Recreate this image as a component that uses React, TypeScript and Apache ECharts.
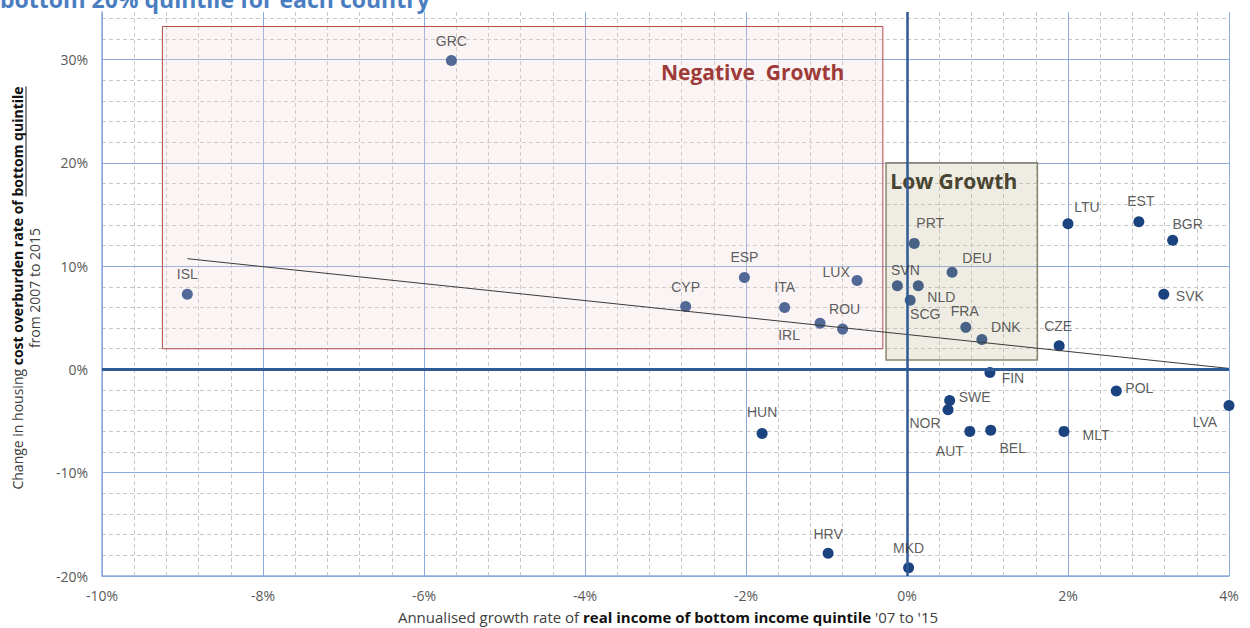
import React, { useEffect, useRef } from "react";
import * as echarts from "echarts";

const countries = ["GRC", "ISL", "CYP", "ESP", "ITA", "LUX", "IRL", "ROU", "SVN", "PRT", "NLD", "SCG", "DEU", "FRA", "DNK", "CZE", "LTU", "EST", "BGR", "SVK", "FIN", "SWE", "NOR", "AUT", "BEL", "MLT", "POL", "LVA", "HUN", "HRV", "MKD"];
const incomeGrowth = [-5.66, -8.94, -2.75, -2.02, -1.52, -0.62, -1.08, -0.80, -0.12, 0.09, 0.14, 0.04, 0.56, 0.73, 0.93, 1.89, 2.0, 2.88, 3.30, 3.19, 1.03, 0.53, 0.51, 0.78, 1.04, 1.95, 2.60, 4.0, -1.80, -0.98, 0.02];
const overburdenChange = [29.9, 7.27, 6.1, 8.9, 6.0, 8.6, 4.46, 3.9, 8.1, 12.2, 8.1, 6.7, 9.4, 4.07, 2.9, 2.3, 14.1, 14.3, 12.5, 7.27, -0.29, -3.0, -3.9, -6.0, -5.9, -6.0, -2.1, -3.5, -6.2, -17.8, -19.2];

const xTicks = [-10, -8, -6, -4, -2, 0, 2, 4];
const yTicks = [-20, -10, 0, 10, 20, 30];

const negativeGrowthBox = [[-9.25, 33.2], [-0.3, 2.0]];
const lowGrowthBox = [[-0.26, 20.0], [1.62, 0.9]];

// label placement (pixel offsets from the marker centre)
const labelOffsets: Record<string, [number, number]> = {
  GRC: [0, -20], ISL: [0, -20], CYP: [0, -19], ESP: [0, -20], ITA: [0, -20],
  LUX: [-21, -9], IRL: [-31, 12], ROU: [2, -20], SVN: [8, -16], PRT: [16, -20],
  NLD: [23, 11], SCG: [15, 14], DEU: [25, -14], FRA: [-1, -16], DNK: [24, -12],
  CZE: [-1, -20], LTU: [19, -17], EST: [2, -21], BGR: [15, -16], SVK: [26, 2],
  FIN: [23, 6], SWE: [25, -3], NOR: [-23, 13], AUT: [-20, 20], BEL: [22, 18],
  MLT: [32, 4], POL: [23, -3], LVA: [-24, 16], HUN: [0, -21], HRV: [0, -19], MKD: [0, -20],
};

function regression(xs: number[], ys: number[]) {
  const n = xs.length;
  const mx = xs.reduce((a, b) => a + b, 0) / n;
  const my = ys.reduce((a, b) => a + b, 0) / n;
  let sxy = 0, sxx = 0;
  for (let i = 0; i < n; i++) {
    sxy += (xs[i] - mx) * (ys[i] - my);
    sxx += (xs[i] - mx) * (xs[i] - mx);
  }
  const slope = sxy / sxx;
  return { slope, intercept: my - slope * mx };
}

function textWidth(text: string, font: string) {
  const c = document.createElement("canvas").getContext("2d");
  if (!c) return text.length * 7;
  c.font = font;
  return c.measureText(text).width;
}

export default function App() {
  const ref = useRef<HTMLDivElement>(null);
  useEffect(() => {
    if (!ref.current) return;
    const chart = echarts.init(ref.current, null, { renderer: "svg" });

    const { slope, intercept } = regression(incomeGrowth, overburdenChange);
    const xMin = Math.min(...incomeGrowth);
    const xMax = Math.max(...incomeGrowth);
    const trend = [[xMin, intercept + slope * xMin], [xMax, intercept + slope * xMax]];

    const points = countries.map((c, i) => ({
      name: c,
      value: [incomeGrowth[i], overburdenChange[i]],
    }));
    const labelPoints = countries.map((c, i) => ({
      name: c,
      value: [incomeGrowth[i], overburdenChange[i]],
      label: { offset: labelOffsets[c] || [0, -18] },
    }));

    const yFont = "Open Sans";
    const yFs = 14;
    const pa = "Change in housing ";
    const pb = "cost overburden rate of ";
    const pc = "bottom quintile";
    const wa = textWidth(pa, `${yFs}px "${yFont}"`);
    const wb = textWidth(pb, `bold ${yFs}px "${yFont}"`);
    const wc = textWidth(pc, `bold ${yFs}px "${yFont}"`);
    const W = wa + wb + wc;

    chart.setOption({
      animation: false,
      grid: { left: 102, right: 21, top: 12, bottom: 52 },
      xAxis: {
        type: "value",
        min: xTicks[0],
        max: xTicks[xTicks.length - 1],
        interval: 2,
        axisLine: { show: true, onZero: false, lineStyle: { color: "#8EAADB", width: 1.5 } },
        axisTick: { show: false },
        axisLabel: { formatter: (v: number) => `${v}%`, color: "#595959", fontFamily: "Open Sans", fontSize: 14, margin: 12 },
        splitLine: { show: true, lineStyle: { color: "#8EAADB", width: 1 } },
        minorTick: { show: false, splitNumber: 5 },
        minorSplitLine: { show: true, lineStyle: { color: "#C8C8C8", type: [4, 3], width: 1 } },
      },
      yAxis: [
        {
          type: "value",
          min: yTicks[0],
          max: 34.6,
          interval: 10,
          z: 2,
          axisLine: { show: true, onZero: false, lineStyle: { color: "#8EAADB", width: 1.5 } },
          axisTick: { show: false },
          axisLabel: {
            showMaxLabel: false,
            formatter: (v: number) => (yTicks.includes(v) ? `${v}%` : ""),
            color: "#595959", fontFamily: "Open Sans", fontSize: 14, margin: 14,
          },
          splitLine: { show: true, showMaxLine: false, lineStyle: { color: "#8EAADB", width: 1 } },
        },
        {
          type: "value",
          min: yTicks[0],
          max: 34.6,
          interval: 2,
          z: 0,
          axisLine: { show: false },
          axisTick: { show: false },
          axisLabel: { show: false },
          splitLine: { show: true, showMaxLine: false, lineStyle: { color: "#C8C8C8", type: [4, 3], width: 1 } },
        },
      ],
      series: [
        {
          type: "scatter",
          z: 2,
          data: points,
          symbolSize: 11,
          itemStyle: { color: "#1B4380", opacity: 1 },
          label: { show: false },
          markArea: {
            z: 3,
            silent: true,
            data: [
              [
                {
                  name: "Negative  Growth",
                  coord: negativeGrowthBox[0],
                  itemStyle: { color: "rgba(238,212,212,0.26)", borderColor: "#B24A48", borderWidth: 1 },
                  label: {
                    show: true, position: "insideTopRight", distance: 5, offset: [-34, 31],
                    color: "#9E3A38", fontFamily: "Open Sans", fontWeight: "bold", fontSize: 21,
                  },
                },
                { coord: negativeGrowthBox[1] },
              ],
              [
                {
                  name: "Low Growth",
                  coord: lowGrowthBox[0],
                  itemStyle: { color: "rgba(197,186,151,0.27)", borderColor: "#8A8570", borderWidth: 1.5 },
                  label: {
                    show: true, position: "insideTopLeft", distance: 5, offset: [0, 3],
                    color: "#494430", fontFamily: "Open Sans", fontWeight: "bold", fontSize: 21,
                  },
                },
                { coord: lowGrowthBox[1] },
              ],
            ],
          },
          markLine: {
            silent: true,
            symbol: "none",
            label: { show: false },
            lineStyle: { color: "#2E5A96", type: "solid" },
            data: [
              { xAxis: 0, lineStyle: { width: 2.5 } },
              { yAxis: 0, lineStyle: { width: 3 } },
            ],
          },
        },
        {
          type: "scatter",
          z: 6,
          silent: true,
          data: labelPoints,
          symbolSize: 11,
          itemStyle: { color: "rgba(0,0,0,0)" },
          label: {
            show: true,
            position: "inside",
            formatter: "{b}",
            color: "#333333",
            fontFamily: "Liberation Sans",
            fontSize: 14,
            align: "center",
            verticalAlign: "middle",
          },
        },
        {
          type: "line",
          z: 4,
          data: trend,
          symbol: "none",
          silent: true,
          lineStyle: { color: "#3A3A3A", width: 1 },
        },
      ],
      graphic: [
        {
          type: "text",
          left: 0,
          top: -13,
          style: {
            text: "bottom 20% quintile for each country",
            fill: "#4A7EC0",
            font: 'bold 23px "Open Sans"',
          },
        },
        {
          type: "group",
          x: 17,
          y: 288,
          rotation: Math.PI / 2,
          children: [
            {
              type: "text",
              x: 0,
              y: 0,
              style: {
                text: `{a|${pa}}{b|${pb}}{b|${pc}}`,
                align: "center",
                verticalAlign: "middle",
                rich: {
                  a: { fontFamily: yFont, fontSize: yFs, fill: "#404040" },
                  b: { fontFamily: yFont, fontSize: yFs, fontWeight: "bold", fill: "#111111" },
                },
              },
            },
            {
              type: "line",
              shape: { x1: -W / 2 + wa + wb, y1: 9, x2: W / 2, y2: 9 },
              style: { stroke: "#111111", lineWidth: 1 },
            },
            {
              type: "text",
              x: 0,
              y: 17,
              style: {
                text: "from 2007 to 2015",
                align: "center",
                verticalAlign: "middle",
                fontFamily: yFont,
                fontSize: yFs,
                fill: "#404040",
              },
            },
          ],
        },
        {
          type: "text",
          x: 668,
          y: 617,
          style: {
            text: "{a|Annualised growth rate of }{b|real income of bottom income quintile}{a| '07 to '15}",
            align: "center",
            verticalAlign: "middle",
            rich: {
              a: { fontFamily: "Open Sans", fontSize: 15, fill: "#404040" },
              b: { fontFamily: "Open Sans", fontSize: 15, fontWeight: "bold", fill: "#111111" },
            },
          },
        },
      ],
    });

    return () => chart.dispose();
  }, []);

  return <div ref={ref} style={{ position: "absolute", left: 0, top: 0, width: 1250, height: 628 }} />;
}
